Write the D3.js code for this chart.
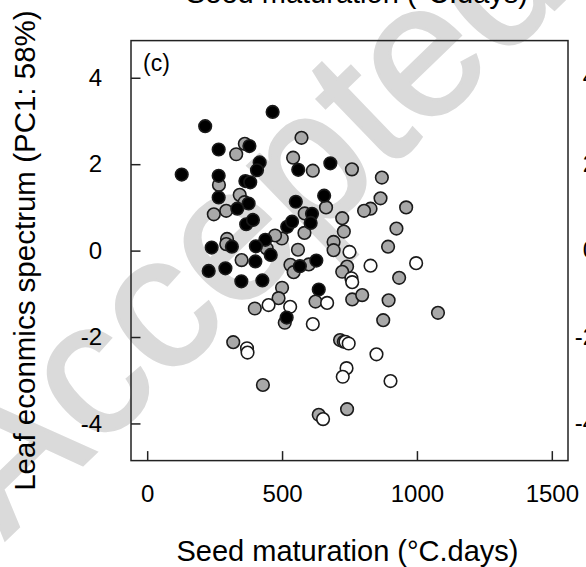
<!DOCTYPE html>
<html><head><meta charset="utf-8">
<script src="https://cdn.jsdelivr.net/npm/d3@7"></script>
<style>body{margin:0;background:#fff}svg{display:block}text{font-family:"Liberation Sans",Arial,sans-serif}</style>
</head><body><svg id="c" width="586" height="567"></svg>
<script>
const xTicks=[0,500,1000,1500];
const yTicks=[-4,-2,0,2,4];
const xTitle="Seed maturation (°C.days)";
const yTitle="Leaf econmics spectrum (PC1: 58%)";
const panelLabel="(c)";
const blackPts=[[465,3.21],[215,2.88],[265,2.34],[379,2.42],[128,1.76],[265,1.73],[417,2.04],[407,1.86],[364,1.61],[382,1.58],[265,1.23],[376,1.09],[334,0.97],[367,0.61],[392,0.71],[551,1.13],[560,1.87],[519,0.55],[537,0.67],[438,0.25],[239,0.07],[314,0.09],[403,0.10],[679,2.02],[656,1.27],[611,0.85],[606,0.64],[458,-0.10],[401,-0.25],[228,-0.47],[290,-0.41],[349,-0.71],[427,-0.69],[566,-0.36],[627,-0.23],[636,-0.90],[517,-1.55]];
const grayPts=[[362,2.47],[330,2.23],[266,1.52],[343,1.29],[361,1.12],[293,0.92],[247,0.84],[541,2.15],[572,2.61],[584,0.86],[499,0.28],[474,0.35],[443,0.05],[296,0.27],[293,0.15],[559,0.02],[614,1.85],[759,1.88],[663,1.00],[583,0.41],[723,0.75],[729,0.44],[691,0.20],[691,0.01],[870,1.69],[865,1.21],[828,0.97],[804,0.92],[960,1.00],[924,0.51],[893,0.09],[741,-0.37],[723,-0.49],[934,-0.63],[760,-1.13],[797,-1.03],[895,-1.15],[875,-1.61],[1078,-1.44],[624,-1.18],[715,-2.07],[729,-2.11],[741,-3.67],[636,-3.80],[599,-0.32],[531,-0.33],[543,-0.50],[350,-0.22],[500,-0.86],[487,-1.10],[399,-1.34],[510,-1.67],[319,-2.12],[429,-3.11]];
const whitePts=[[750,-0.03],[828,-0.35],[997,-0.29],[757,-0.64],[760,-0.73],[667,-1.21],[450,-1.26],[530,-1.30],[614,-1.70],[735,-2.11],[747,-2.15],[850,-2.40],[739,-2.72],[725,-2.92],[902,-3.02],[652,-3.90],[370,-2.26],[372,-2.36]];

const svg=d3.select("#c");
const L=131,R=568,T=40.6,B=460.6;
const x=d3.scaleLinear().domain([-60,1560]).range([L,R]);
const y=d3.scaleLinear().domain([-4.86,4.86]).range([B,T]);

// watermark
svg.append("text").text("Accepted")
  .attr("transform","translate(5,540) rotate(-44)")
  .attr("font-size",190).attr("fill","#dadada")
  .attr("stroke","#dadada").attr("stroke-width",3);

// partial neighbouring panel texts (cropped)
svg.append("text").text(xTitle).attr("x",357).attr("y",3)
  .attr("text-anchor","middle").attr("font-size",29).attr("fill","#000");
svg.append("g").selectAll("text").data(yTicks).join("text")
  .attr("x",596).attr("y",d=>y(d)).attr("dy","0.32em")
  .attr("text-anchor","end").attr("font-size",24).attr("fill","#000")
  .text(d=>String(d));

// points
const groups=[[grayPts,"#a8a8a8"],[whitePts,"#ffffff"],[blackPts,"#000000"]];
groups.forEach(([pts,fill])=>{
  svg.append("g").selectAll("circle").data(pts).join("circle")
    .attr("cx",d=>x(d[0])).attr("cy",d=>y(d[1])).attr("r",6.3)
    .attr("fill",fill).attr("stroke","#1a1a1a").attr("stroke-width",1.6);
});

// axes
const ya=svg.append("g").attr("transform",`translate(${L},0)`)
  .call(d3.axisLeft(y).tickValues(yTicks).tickSizeInner(-9.5).tickSizeOuter(0).tickPadding(29).tickFormat(d=>String(d)));
const xa=svg.append("g").attr("transform",`translate(0,${B})`)
  .call(d3.axisBottom(x).tickValues(xTicks).tickSizeInner(-9.5).tickSizeOuter(0).tickPadding(24.5).tickFormat(d=>String(d)));
[ya,xa].forEach(g=>{
  g.attr("font-family",null).attr("font-size",null);
  g.select(".domain").remove();
  g.selectAll("line").attr("stroke","#222").attr("stroke-width",1.5);
  g.selectAll("text").attr("font-size",24).attr("fill","#000");
});

// box
svg.append("rect").attr("x",L).attr("y",T).attr("width",R-L).attr("height",B-T)
  .attr("fill","none").attr("stroke","#222").attr("stroke-width",1.5);

// labels
svg.append("text").text(panelLabel).attr("x",143).attr("y",71).attr("font-size",23).attr("fill","#000");
svg.append("text").text(xTitle).attr("x",(L+R)/2-2).attr("y",561)
  .attr("text-anchor","middle").attr("font-size",29).attr("fill","#000");
svg.append("text").text(yTitle).attr("transform",`translate(35,${(T+B)/2}) rotate(-90)`)
  .attr("text-anchor","middle").attr("font-size",29.5).attr("fill","#000");
</script></body></html>
